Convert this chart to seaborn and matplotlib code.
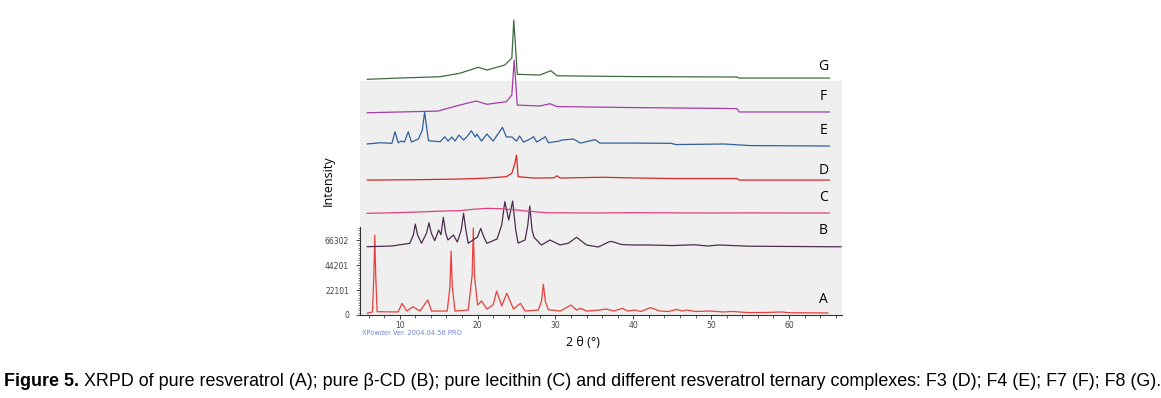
import matplotlib
matplotlib.use("Agg")
import matplotlib.pyplot as plt
import matplotlib.ticker as mticker
import numpy as np
import pandas as pd
import seaborn as sns

# ── Data (2θ in degrees, intensity in kcounts) ──
samples = ["A", "B", "C", "D", "E", "F", "G"]

tt_A = [5.8, 6.5, 6.68, 6.8, 6.92, 7.1, 8.5, 9.8, 10.3, 10.9, 11.7, 12.6, 13.6, 14.1,
        16.1, 16.45, 16.6, 16.75, 17.1, 18.8, 19.3, 19.45, 19.6, 20.0, 20.5, 21.2, 22.0,
        22.45, 23.1, 23.75, 24.6, 25.5, 26.1, 27.8, 28.2, 28.45, 28.7, 29.1, 30.6, 31.1,
        32.0, 32.7, 33.25, 34.0, 35.7, 36.5, 37.5, 38.6, 39.3, 40.2, 41.0, 42.2, 43.4,
        44.5, 45.6, 46.3, 46.9, 48.0, 49.9, 51.5, 52.8, 54.6, 57.0, 59.1, 60.0, 65.0]
I_A = [1.5, 2.7, 35, 70.7, 35, 2.9, 2.8, 2.7, 10.3, 3.5, 7.3, 3.5, 13.3, 3.5,
       3.5, 25, 56.6, 25, 3.5, 4.4, 35, 76.9, 35, 8.8, 12.4, 5.3, 9.0,
       21.2, 8.0, 19.2, 5.3, 10.3, 3.5, 4.4, 12, 27.1, 12, 4.7, 3.5, 5.3,
       8.8, 4.4, 5.9, 3.5, 4.4, 5.3, 3.5, 5.9, 3.5, 4.4, 3.1, 6.5, 3.5,
       3.1, 4.9, 3.5, 4.4, 3.1, 3.5, 2.7, 3.1, 2.2, 2.2, 2.7, 2.0, 1.8]

tt_B = [5.8, 7.0, 9.0, 11.3, 11.75, 12.0, 12.3, 12.8, 13.45, 13.75, 14.05, 14.5, 15.0,
        15.3, 15.6, 15.9, 16.2, 16.9, 17.4, 17.9, 18.2, 18.5, 18.8, 20.0, 20.4, 20.8,
        21.2, 22.5, 23.1, 23.5, 24.0, 24.5, 24.9, 25.2, 26.1, 26.45, 26.7, 27.0, 27.25,
        28.2, 29.3, 30.6, 31.7, 32.7, 34.0, 35.5, 36.8, 37.2, 38.5, 40.0, 42.0, 45.0,
        47.9, 49.5, 51.0, 55.0, 60.0, 66.7]
I_B = [60.4, 60.6, 61.0, 63.4, 70.7, 80.4, 70.7, 63.4, 72.5, 81.6, 72.5, 65.7, 75.1,
       71.0, 86.4, 72.5, 66.3, 70.7, 64.5, 75.0, 89.9, 75.0, 63.4, 69.0, 76.6, 69.0,
       63.4, 67.2, 79.6, 100.2, 84.0, 100.8, 75.1, 63.6, 66.3, 79.6, 96.4, 75.1, 68.7,
       61.9, 66.3, 61.9, 63.6, 68.7, 61.9, 60.1, 64.5, 65.1, 62.3, 61.9, 61.9, 61.4,
       62.1, 61.0, 61.9, 60.8, 60.6, 60.3]

tt_C = [5.8, 8, 10, 12, 14, 16, 17.7, 19.5, 21.2, 23, 25.0, 27, 28.9, 32, 35, 40, 45,
        50, 55, 60, 65.2]
I_C = [89.9, 90.2, 90.6, 91.0, 91.5, 92.0, 92.2, 93.5, 94.3, 94.0, 92.8, 91.5, 90.4,
       90.3, 90.2, 90.5, 90.3, 90.2, 90.3, 90.2, 90.2]

tt_D = [5.8, 12, 17.7, 21, 23.7, 24.4, 24.8, 25.0, 25.2, 27.2, 29.8, 30.2, 30.6, 36.0,
        40, 45, 53.3, 53.6, 65.2]
I_D = [119.3, 119.6, 120.2, 121.0, 122.3, 125.3, 134.4, 141.4, 122.3, 121.1, 121.3,
       123.1, 121.1, 121.8, 121.2, 120.7, 120.7, 119.3, 119.3]

tt_E = [5.8, 7.5, 9.0, 9.4, 9.8, 10.2, 10.6, 11.1, 11.5, 12.4, 12.9, 13.2, 13.5, 13.7,
        15.2, 15.8, 16.2, 16.7, 17.1, 17.6, 18.2, 18.6, 19.2, 19.7, 19.9, 20.5, 21.2,
        22.0, 23.2, 23.7, 24.4, 25.0, 25.4, 25.9, 26.5, 27.2, 27.6, 28.7, 29.1, 30.5,
        30.8, 32.3, 33.2, 35.1, 35.7, 40.0, 44.8, 45.5, 51.7, 55.0, 65.2]
I_E = [151.2, 152.3, 151.8, 162.0, 152.3, 153.8, 152.9, 162.0, 152.9, 155.6, 163.5,
       179.5, 163.5, 154.1, 153.2, 157.6, 153.8, 157.4, 153.8, 159.1, 154.7, 157.4,
       162.9, 157.4, 160.0, 153.8, 160.0, 153.8, 165.9, 157.4, 157.4, 153.8, 158.2,
       152.9, 154.7, 157.6, 152.9, 157.6, 152.3, 153.8, 154.7, 155.6, 152.0, 155.1,
       152.0, 152.0, 151.8, 150.7, 151.2, 149.8, 149.4]

tt_F = [5.8, 10, 14.9, 17.7, 19.8, 21.2, 23.7, 24.4, 24.7, 25.1, 28.0, 29.3, 30.2, 40,
        53.3, 53.6, 65.2]
I_F = [178.8, 179.5, 180.3, 185.6, 189.2, 186.3, 188.6, 194.5, 225.4, 185.6, 184.8,
       186.8, 184.3, 183.4, 182.5, 179.5, 179.5]

tt_G = [5.8, 10, 15.2, 17.7, 20.1, 21.2, 23.5, 24.4, 24.65, 25.1, 28.0, 29.4, 30.2, 40,
        53.3, 53.6, 65.2]
I_G = [208.4, 209.5, 210.7, 213.7, 219.0, 216.6, 221.0, 227.2, 260.8, 212.8, 212.2,
       216.0, 211.5, 210.8, 210.4, 209.5, 209.5]

y_ticks = [0, 22101, 44201, 66302]

# ── Style ─────────────────────────────────────────────────
sns.set_theme(style="white")
plt.rcParams["font.family"] = ["Open Sans", "DejaVu Sans"]
plt.rcParams["text.color"] = "black"

colors = {"A": "#e8403c", "B": "#4d2c4f", "C": "#e0407c", "D": "#d92626",
          "E": "#30609c", "F": "#a43ca6", "G": "#3f6b40"}

traces = {"A": (tt_A, I_A), "B": (tt_B, I_B), "C": (tt_C, I_C), "D": (tt_D, I_D),
          "E": (tt_E, I_E), "F": (tt_F, I_F), "G": (tt_G, I_G)}
df = pd.concat([pd.DataFrame({"two_theta": t, "counts": np.array(i) * 1000, "sample": s})
                for s, (t, i) in traces.items()], ignore_index=True)

W, H = 1161, 398
fig = plt.figure(figsize=(W / 100, H / 100), dpi=100)
ax = fig.add_axes([360 / W, 1 - 315 / H, (842 - 360) / W, (315 - 81) / H])
ax.set_facecolor("#efefef")

for s in samples:
    sns.lineplot(data=df[df["sample"] == s], x="two_theta", y="counts",
                 color=colors[s], linewidth=0.9, estimator=None, sort=False,
                 ax=ax, clip_on=False)

ax.set_xlim(4.9, 66.8)
ax.set_ylim(0, 206900)

# sample letters at the right end of each trace
label_y = {"A": 13.3, "B": 75.1, "C": 104.3, "D": 128.2, "E": 163.5, "F": 193.6, "G": 220.1}
for s in samples:
    ax.text(64.4, label_y[s] * 1000, s, fontsize=10, ha="center", va="center",
            color="black", clip_on=False)

# axes / ticks
for side in ["top", "right"]:
    ax.spines[side].set_visible(False)
ax.spines["bottom"].set_color("#333333")
ax.spines["bottom"].set_linewidth(0.8)
ax.spines["left"].set_color("#333333")
ax.spines["left"].set_linewidth(0.8)
ax.spines["left"].set_bounds(0, 78000)

ax.xaxis.set_major_locator(mticker.MultipleLocator(10))
ax.xaxis.set_minor_locator(mticker.MultipleLocator(2))
ax.set_yticks(y_ticks)
ax.set_yticklabels([str(v) for v in y_ticks])
ax.yaxis.set_minor_locator(mticker.FixedLocator(np.arange(0, 78000, 2210.1)))
ax.tick_params(axis="x", which="major", direction="out", length=3, width=0.6,
               labelsize=5.5, labelcolor="#444444", pad=1.5, bottom=True)
ax.tick_params(axis="x", which="minor", direction="out", length=1.8, width=0.5, bottom=True)
ax.tick_params(axis="y", which="major", direction="out", length=3, width=0.6,
               labelsize=5.5, labelcolor="#444444", pad=5, left=True)
ax.tick_params(axis="y", which="minor", direction="out", length=1.5, width=0.4, left=True)
for lbl in ax.get_xticklabels() + ax.get_yticklabels():
    lbl.set_family("DejaVu Sans")
ax.set_xlabel("")
ax.set_ylabel("")

fig.text(362 / W, 1 - 333 / H, "XPowder Ver. 2004.04.56 PRO", fontsize=4.8,
         color="#6f82d8", va="center", family="DejaVu Sans")
fig.text(583 / W, 1 - 343 / H, "2 θ (°)", fontsize=9, ha="center", va="center")
fig.text(328 / W, 1 - 181 / H, "Intensity", fontsize=9, rotation=90,
         ha="center", va="center")

# caption, fitted to the reference width
cap_fam = ["Liberation Sans Narrow", "Liberation Sans", "DejaVu Sans"]
renderer = fig.canvas.get_renderer()
fs = 12
t1 = fig.text(4 / W, 1 - 381 / H, "Figure 5.", fontsize=fs, fontweight="bold",
              family=cap_fam, va="center", color="black")
rest = (" XRPD of pure resveratrol (A); pure β-CD (B); pure lecithin (C) and different "
        "resveratrol ternary complexes: F3 (D); F4 (E); F7 (F); F8 (G).")
t2 = fig.text(0, 1 - 381 / H, rest, fontsize=fs, family=cap_fam, va="center",
              color="black")
w = t1.get_window_extent(renderer).width + t2.get_window_extent(renderer).width
fs = fs * 1153 / w
t1.set_fontsize(fs)
t2.set_fontsize(fs)
x2 = 4 + t1.get_window_extent(renderer).width
t2.set_x(x2 / W)

fig.savefig("out.png", dpi=100, facecolor="white")
